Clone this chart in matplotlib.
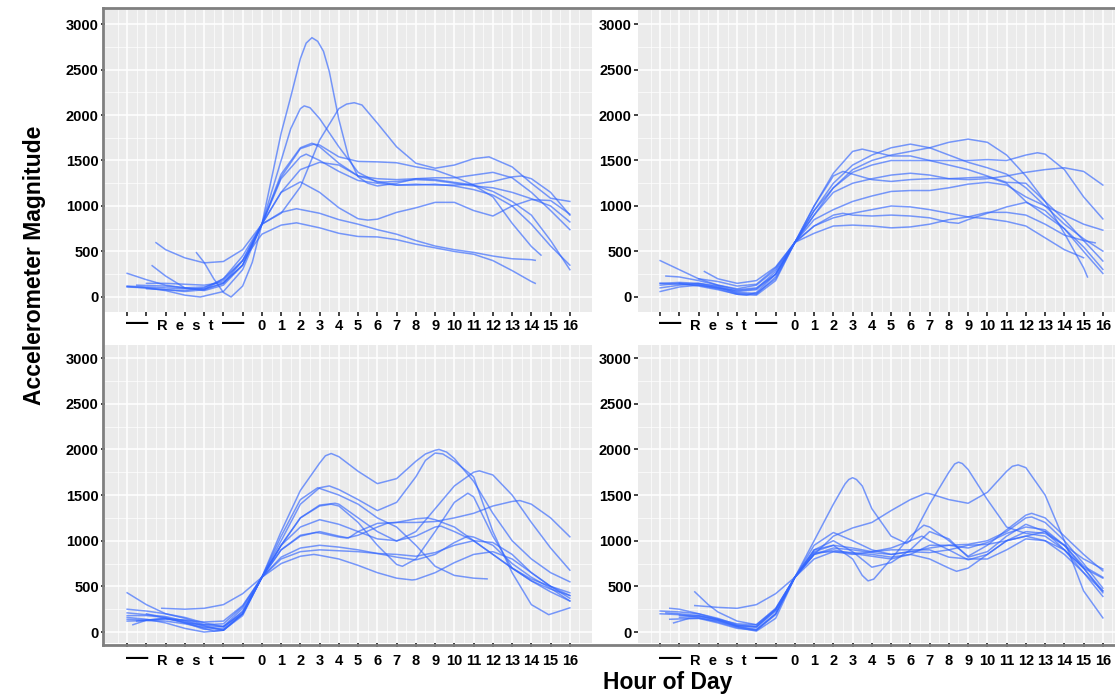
import matplotlib
matplotlib.use('Agg')
import matplotlib.pyplot as plt

plt.rcParams['font.family'] = ['Liberation Sans', 'DejaVu Sans']

# hours: negative values are the rest period, 0..16 the hour of day
hours = list(range(-7, 17))
hour_labels = ['', '', '', 'R  e  s  t', '', '', ''] + [str(h) for h in range(17)]
y_ticks = [0, 500, 1000, 1500, 2000, 2500, 3000]

# ---- top left panel ----
tl_x = [
    [-3.4, -3, -2.5, -2, -1.6, -1, -0.5, 0, 1, 1.5, 2, 2.3, 2.6, 2.9, 3.2, 3.5, 4, 4.5, 5, 5.5, 6, 7, 8, 9, 10, 11, 12, 13, 14, 15, 16],
    [-7, -6, -5, -4, -3, -2, -1, 0, 1, 1.5, 2, 2.2, 2.5, 3, 4, 5, 6, 7, 8, 9, 10, 11, 12, 13, 14, 15, 16],
    [-5.5, -5, -4, -3, -2, -1, 0, 1, 2, 3, 4, 4.4, 4.8, 5.2, 6, 7, 8, 9, 10, 11, 11.8, 13, 14, 15, 16],
    [-5.7, -5, -4, -3, -2, -1, 0, 1, 2, 2.7, 3, 4, 5, 6, 7, 8, 9, 10, 11, 12, 13, 14, 14.5],
    [-7, -6, -5, -4, -3, -2, -1, 0, 1, 2, 2.6, 3, 4, 5, 6, 7, 8, 9, 10, 11, 12, 13, 14, 15, 16],
    [-7, -6, -5, -4, -3.2, -2, -1, 0, 1, 2, 2.3, 3, 4, 5, 6, 7, 8, 9, 10, 11, 12, 13, 14, 15, 16],
    [-6, -5, -4, -3, -2, -1, 0, 1, 2, 3, 4, 5, 6, 7, 8, 9, 10, 11, 12, 13, 13.5, 14, 15, 16],
    [-6.5, -5, -4, -3, -2, -1, 0, 1, 2, 3, 4, 5, 5.5, 6, 7, 8, 9, 10, 11, 12, 13, 14, 15, 16],
    [-6, -5, -4, -3, -2, -1, 0, 1, 1.8, 3, 4, 5, 6, 7, 8, 9, 10, 11, 12, 13, 14, 14.2],
    [-7, -6, -5, -4, -3, -2, -1, 0, 1, 1.8, 3, 4, 5, 6, 7, 8, 9, 10, 11, 12, 13, 14, 14.2],
]
tl_y = [
    [487, 380, 200, 50, 0, 120, 380, 800, 1800, 2200, 2620, 2790, 2850, 2810, 2700, 2480, 1950, 1540, 1320, 1250, 1220, 1250, 1300, 1290, 1260, 1230, 1160, 1050, 900, 620, 300],
    [120, 110, 100, 90, 90, 150, 350, 800, 1500, 1850, 2070, 2100, 2080, 1960, 1650, 1370, 1260, 1270, 1290, 1280, 1250, 1220, 1200, 1150, 1080, 1000, 825],
    [597, 520, 430, 375, 390, 520, 800, 920, 1210, 1725, 2070, 2120, 2135, 2110, 1910, 1650, 1470, 1415, 1450, 1520, 1540, 1430, 1250, 1085, 1050],
    [344, 230, 100, 70, 130, 350, 800, 1320, 1630, 1680, 1670, 1540, 1490, 1485, 1475, 1430, 1395, 1320, 1230, 1100, 810, 555, 460],
    [260, 190, 130, 100, 110, 180, 400, 800, 1350, 1640, 1690, 1650, 1470, 1330, 1300, 1290, 1300, 1310, 1310, 1340, 1370, 1310, 1150, 950, 740],
    [110, 100, 70, 20, 0, 60, 300, 800, 1300, 1540, 1570, 1500, 1380, 1280, 1250, 1230, 1230, 1240, 1220, 1180, 1120, 1000, 800, 560, 350],
    [150, 150, 140, 130, 160, 350, 800, 1150, 1400, 1480, 1450, 1330, 1270, 1230, 1240, 1230, 1230, 1240, 1270, 1320, 1330, 1300, 1150, 900],
    [130, 120, 100, 80, 150, 400, 800, 1150, 1265, 1150, 980, 860, 845, 855, 930, 980, 1040, 1040, 950, 890, 1000, 1070, 1060, 910],
    [90, 80, 60, 80, 200, 450, 800, 930, 970, 920, 850, 800, 740, 690, 620, 560, 520, 490, 450, 420, 410, 403],
    [115, 100, 80, 70, 100, 200, 400, 690, 790, 815, 760, 700, 665, 660, 630, 580, 540, 500, 470, 400, 290, 170, 150],
]

# ---- top right panel ----
tr_x = [
    [-7, -6, -5, -4, -3, -2, -1, 0, 1, 2, 3, 3.5, 4, 5, 6, 7, 8, 9, 10, 11, 12, 13, 14, 15, 16],
    [-7, -6, -5, -4, -3, -2, -1, 0, 1, 2, 3, 4, 5, 6, 7, 8, 9, 10, 11, 12, 13, 14, 15, 16],
    [-7, -6, -5, -4, -3, -2, -1, 0, 1, 2, 3, 4, 5, 6, 7, 8, 9, 10, 11, 12, 13, 14, 15, 15.2],
    [-6.7, -6, -5, -4, -3, -2, -1, 0, 1, 2, 3, 4, 5, 6, 7, 8, 9, 10, 11, 12, 12.6, 13, 14, 15, 16],
    [-7, -6, -5, -4, -3, -2, -1, 0, 1, 2, 2.5, 3, 4, 5, 6, 7, 8, 9, 10, 11, 12, 13, 14, 15, 16],
    [-4.7, -4, -3, -2, -1, 0, 1, 2, 3, 4, 5, 6, 7, 8, 9, 10, 11, 12, 13, 14, 15, 16],
    [-7, -6, -5, -4, -3, -2, -1, 0, 1, 2, 3, 4, 5, 6, 7, 8, 9, 10, 11, 12, 13, 14, 15, 16],
    [-6, -5, -4, -3, -2.5, -2, -1, 0, 1, 2, 3, 4, 5, 6, 7, 8, 9, 10, 11, 12, 13, 14, 15],
    [-7, -6, -5, -4, -3, -2, -1, 0, 1, 2, 2.5, 3, 4, 5, 6, 7, 8, 8.5, 9, 10, 11, 12, 13, 14, 15, 16],
    [-5, -4, -3, -2, -1, 0, 1, 2, 3, 4, 5, 6, 7, 8, 9, 10, 11, 12, 13, 14, 15, 15.6],
]
tr_y = [
    [400, 300, 200, 130, 80, 100, 250, 600, 1000, 1360, 1600, 1625, 1600, 1550, 1550, 1500, 1450, 1400, 1330, 1260, 1250, 1050, 850, 620, 395],
    [150, 140, 130, 100, 50, 40, 200, 600, 950, 1250, 1450, 1560, 1640, 1680, 1640, 1560, 1480, 1420, 1350, 1200, 1000, 800, 640, 504],
    [60, 110, 130, 90, 30, 20, 180, 600, 900, 1200, 1400, 1500, 1560, 1600, 1640, 1700, 1735, 1700, 1560, 1330, 1050, 700, 320, 220],
    [230, 220, 180, 130, 90, 130, 300, 600, 950, 1200, 1370, 1450, 1500, 1500, 1500, 1500, 1500, 1510, 1500, 1560, 1585, 1570, 1400, 1100, 858],
    [100, 130, 150, 120, 60, 80, 250, 600, 1000, 1330, 1380, 1350, 1290, 1270, 1290, 1300, 1300, 1290, 1300, 1330, 1370, 1400, 1420, 1380, 1230],
    [280, 200, 150, 180, 330, 600, 900, 1150, 1250, 1300, 1340, 1360, 1340, 1300, 1310, 1320, 1250, 1050, 900, 750, 550, 303],
    [150, 160, 150, 110, 40, 30, 220, 600, 850, 960, 1050, 1110, 1160, 1170, 1170, 1200, 1240, 1260, 1230, 1100, 1000, 900, 800, 734],
    [150, 120, 80, 30, 20, 50, 250, 600, 780, 870, 920, 960, 1000, 990, 960, 920, 880, 860, 830, 780, 650, 520, 431],
    [130, 150, 140, 100, 70, 90, 280, 600, 780, 900, 920, 900, 890, 900, 890, 870, 820, 810, 850, 920, 990, 1040, 950, 750, 500, 259],
    [200, 170, 120, 140, 320, 600, 700, 780, 790, 780, 760, 770, 800, 850, 880, 930, 930, 900, 800, 680, 620, 595],
]

# ---- bottom left panel ----
bl_x = [
    [-7, -6, -5, -4, -3, -2, -1, 0, 1, 2, 3, 3.3, 3.6, 4, 5, 6, 7, 8, 8.5, 9, 9.2, 9.6, 10, 11, 12, 13, 14, 15, 16],
    [-7, -6, -5, -4, -3, -2, -1, 0, 1, 2, 3, 3.5, 4, 5, 6, 7, 8, 8.5, 9, 9.4, 10, 11, 12, 13, 14, 14.9, 16],
    [-7, -6, -5, -4, -3, -2, -1, 0, 1, 2, 3, 3.8, 4, 5, 6, 7, 8, 9, 10, 11, 11.3, 12, 13, 14, 15, 16],
    [-7, -6, -5, -4, -3, -2, -1, 0, 1, 2, 3, 3.6, 4, 5, 6, 7, 7.3, 8, 9, 10, 10.7, 11, 12, 13, 14, 15, 16],
    [-5.2, -4, -3, -2, -1, 0, 1, 2, 3, 4, 4.5, 5, 6, 7, 8, 9, 10, 11, 12, 13, 13.4, 14, 15, 16],
    [-6.7, -6, -5, -4, -3, -2.5, -2, -1, 0, 1, 2, 3, 4, 5, 6, 7, 8, 9, 9.3, 10, 11, 12, 13, 14, 15, 16],
    [-7, -6, -5, -4, -3, -2, -1, 0, 1, 2, 2.9, 4, 5, 6, 7, 8, 9, 10, 11, 11.7],
    [-7, -6, -5, -4, -3, -2, -1, 0, 1, 2, 3, 4, 5, 6, 7, 8, 9, 10, 11, 12, 13, 14, 15, 16],
    [-6, -5, -4, -3, -2, -1, 0, 1, 2, 2.7, 3, 4, 5, 6, 7, 7.8, 8, 9, 10, 11, 12, 13, 14, 15, 16],
    [-7, -6, -5, -4, -3, -2, -1, 0, 1, 2, 2.8, 3, 4, 4.4, 5, 6, 6.5, 7, 8, 8.6, 9, 10, 11, 12, 13, 14, 15, 16],
    [-6.5, -5, -4, -3, -2, -1, 0, 1, 2, 3, 4, 5, 6, 7, 8, 9, 10, 10.7, 11, 12, 13, 14, 15, 16],
]
bl_y = [
    [430, 300, 200, 150, 80, 60, 200, 600, 1100, 1550, 1850, 1930, 1955, 1920, 1760, 1625, 1680, 1870, 1950, 1990, 2000, 1970, 1900, 1650, 1300, 1000, 800, 650, 550],
    [250, 230, 200, 160, 100, 60, 220, 600, 1000, 1400, 1580, 1600, 1560, 1450, 1330, 1420, 1700, 1880, 1960, 1950, 1870, 1700, 1100, 650, 300, 190, 265],
    [210, 190, 170, 120, 60, 20, 200, 600, 950, 1250, 1390, 1410, 1400, 1250, 1100, 995, 1100, 1350, 1600, 1750, 1765, 1720, 1500, 1200, 920, 677],
    [140, 130, 140, 130, 70, 20, 180, 600, 950, 1250, 1380, 1400, 1380, 1200, 950, 740, 720, 800, 1100, 1420, 1520, 1480, 1050, 700, 560, 470, 400],
    [260, 250, 260, 300, 420, 600, 900, 1050, 1100, 1050, 1030, 1100, 1190, 1200, 1200, 1210, 1250, 1300, 1380, 1430, 1440, 1400, 1250, 1043],
    [80, 130, 150, 110, 40, 10, 20, 200, 600, 950, 1150, 1230, 1180, 1100, 1020, 1000, 1050, 1150, 1160, 1100, 1000, 850, 700, 580, 500, 430],
    [180, 180, 160, 100, 30, 40, 230, 600, 1050, 1450, 1580, 1500, 1400, 1250, 1150, 950, 720, 620, 590, 582],
    [120, 125, 120, 90, 50, 60, 260, 600, 800, 880, 900, 890, 880, 860, 850, 830, 870, 950, 1000, 980, 850, 650, 500, 400],
    [200, 150, 100, 80, 90, 280, 600, 750, 830, 850, 840, 800, 730, 650, 590, 570, 575, 650, 760, 850, 880, 800, 650, 500, 370],
    [160, 140, 100, 40, 0, 20, 200, 600, 900, 1060, 1090, 1085, 1040, 1030, 1060, 1150, 1190, 1200, 1240, 1250, 1230, 1150, 1000, 850, 700, 560, 440, 340],
    [120, 150, 130, 110, 120, 290, 600, 820, 920, 950, 930, 900, 860, 820, 790, 850, 980, 1050, 1040, 950, 750, 600, 480, 340],
]

# ---- bottom right panel ----
br_x = [
    [-7, -6, -5, -4, -3, -2, -1, 0, 1, 2, 2.6, 2.8, 3, 3.2, 3.5, 4, 5, 5.8, 6, 7, 8, 8.3, 8.5, 8.7, 9, 10, 11, 12, 13, 14, 15, 16],
    [-5.2, -4, -3, -2, -1, 0, 1, 2, 3, 4, 5, 6, 6.8, 7, 8, 9, 10, 11, 11.3, 11.6, 12, 13, 14, 15, 16],
    [-6.7, -6, -5, -4, -3, -2, -1, 0, 1, 2, 3, 3.5, 3.8, 4.1, 5, 6, 6.7, 7, 8, 9, 10, 11, 12, 12.3, 13, 14, 15, 16],
    [-6.3, -5.5, -5, -4, -3, -2, -1, 0, 1, 2, 3, 4, 5, 6, 7, 8, 9, 10, 11, 12, 13, 14, 15, 16],
    [-5.2, -4.5, -4, -3, -2, -1, 0, 1, 2, 3, 4, 5, 6, 7, 8, 9, 10, 11, 12, 12.3, 13, 14, 15, 16],
    [-7, -6, -5, -4, -3, -2, -1, 0, 1, 2, 3, 4, 5, 6, 6.6, 7, 8, 9, 10, 11, 12, 13, 14, 15, 16],
    [-6, -5, -4, -3, -2, -1, 0, 1, 2, 3, 4, 5, 6, 7, 8, 9, 10, 11, 12, 13, 14, 15, 16],
    [-6.5, -5, -4, -3, -2, -1, 0, 1, 2, 3, 4, 5, 6, 7, 8, 8.4, 9, 10, 11, 12, 13, 14, 15, 16],
    [-6.5, -6, -5, -4, -3, -2, -1, 0, 1, 2, 3, 4, 5, 6, 7, 8, 9, 10, 11, 12, 13, 14, 15, 16],
    [-6, -5, -4, -3, -2, -1, 0, 1, 2, 3, 4, 5, 6, 7, 8, 9, 10, 11, 12, 13, 14, 15, 16],
]
br_y = [
    [230, 220, 200, 150, 80, 60, 250, 600, 1000, 1400, 1620, 1670, 1690, 1670, 1600, 1350, 1050, 970, 1000, 1400, 1750, 1840, 1860, 1845, 1780, 1450, 1150, 1080, 1050, 900, 700, 450],
    [290, 270, 260, 300, 420, 600, 850, 1050, 1140, 1200, 1330, 1450, 1520, 1515, 1450, 1410, 1530, 1760, 1815, 1830, 1800, 1500, 1000, 450, 155],
    [210, 200, 180, 130, 60, 30, 200, 600, 900, 950, 800, 620, 560, 580, 800, 1050, 1170, 1150, 1000, 830, 950, 1120, 1280, 1300, 1250, 1050, 850, 670],
    [100, 150, 150, 120, 60, 20, 190, 600, 900, 1000, 880, 710, 760, 900, 1100, 1020, 820, 880, 1050, 1180, 1100, 950, 800, 690],
    [440, 300, 220, 120, 80, 250, 600, 950, 1090, 1000, 900, 850, 880, 920, 950, 960, 1000, 1100, 1250, 1260, 1200, 1000, 750, 480],
    [200, 190, 160, 110, 50, 10, 150, 600, 880, 950, 920, 880, 920, 1000, 1050, 1000, 900, 790, 850, 1000, 1100, 1080, 950, 700, 430],
    [160, 170, 130, 70, 50, 230, 600, 850, 920, 900, 870, 850, 880, 870, 900, 950, 960, 1000, 1050, 1100, 900, 650, 390],
    [140, 150, 100, 40, 20, 200, 600, 850, 900, 860, 830, 800, 850, 800, 700, 665, 700, 850, 1000, 1050, 1000, 850, 650, 450],
    [260, 250, 200, 140, 70, 60, 240, 600, 870, 880, 850, 880, 900, 900, 900, 820, 800, 800, 900, 1020, 1000, 900, 700, 590],
    [180, 180, 140, 90, 80, 260, 600, 800, 880, 870, 850, 820, 850, 950, 950, 920, 980, 1080, 1150, 1120, 950, 720, 600],
]

W, H = 1115, 696
fig = plt.figure(figsize=(W / 100, H / 100), dpi=100)


def draw_panel(box, xs, ys, ylim, pad):
    ax = fig.add_axes(box)
    ax.set_facecolor('#EBEBEB')
    for x, y in zip(xs, ys):
        ax.plot(x, y, color='#3366FF', alpha=0.65, lw=1.1, solid_joinstyle='round')
    ax.set_xlim(-8.15, 17.15)
    ax.set_ylim(*ylim)

    ax.set_xticks(hours)
    ax.set_xticklabels(hour_labels)
    halves = [h + 0.5 for h in range(-8, 17)]
    ax.set_xticks(halves, minor=True)
    ax.set_xticklabels(['\u2014' if h in (-6.5, -1.5) else '' for h in halves], minor=True)
    ax.set_yticks(y_ticks)
    ax.set_yticks([250, 750, 1250, 1750, 2250, 2750], minor=True)

    ax.grid(which='major', color='white', lw=1.1)
    ax.grid(which='minor', color='white', lw=0.5)
    ax.set_axisbelow(True)
    for s in ax.spines.values():
        s.set_visible(False)

    ax.tick_params(which='major', length=3, width=1.3, color='#333333',
                   labelsize=10.5, labelcolor='black', pad=1.5)
    ax.tick_params(axis='x', which='major', pad=pad)
    ax.tick_params(axis='x', which='minor', length=0, pad=pad - 1.5, labelsize=16)
    ax.tick_params(axis='y', which='minor', length=0)
    for lbl in ax.get_xticklabels(which='both') + ax.get_yticklabels():
        lbl.set_fontweight('bold')
    return ax


top_ylim = (-165, 3154)
bot_ylim = (-120, 3143)
draw_panel([105 / W, (H - 312) / H, 487 / W, 302 / H], tl_x, tl_y, top_ylim, 2)
draw_panel([638 / W, (H - 312) / H, 487 / W, 302 / H], tr_x, tr_y, top_ylim, 2)
draw_panel([105 / W, (H - 643) / H, 487 / W, 298 / H], bl_x, bl_y, bot_ylim, 5)
draw_panel([638 / W, (H - 643) / H, 487 / W, 298 / H], br_x, br_y, bot_ylim, 5)

# outer frame around the grid of panels
frame = fig.add_axes([103 / W, (H - 645) / H, 1.0, (645 - 8) / H])
frame.patch.set_visible(False)
frame.set_xticks([])
frame.set_yticks([])
for s in frame.spines.values():
    s.set_color('#7F7F7F')
    s.set_linewidth(2)
frame.spines['right'].set_visible(False)
frame.set_zorder(5)

fig.text(35 / W, 1 - 265 / H, 'Accelerometer Magnitude', rotation=90,
         fontsize=16.5, fontweight='bold', ha='center', va='center')
fig.text(668 / W, 1 - 683 / H, 'Hour of Day',
         fontsize=16.5, fontweight='bold', ha='center', va='center')

fig.savefig('out.png', dpi=100)
